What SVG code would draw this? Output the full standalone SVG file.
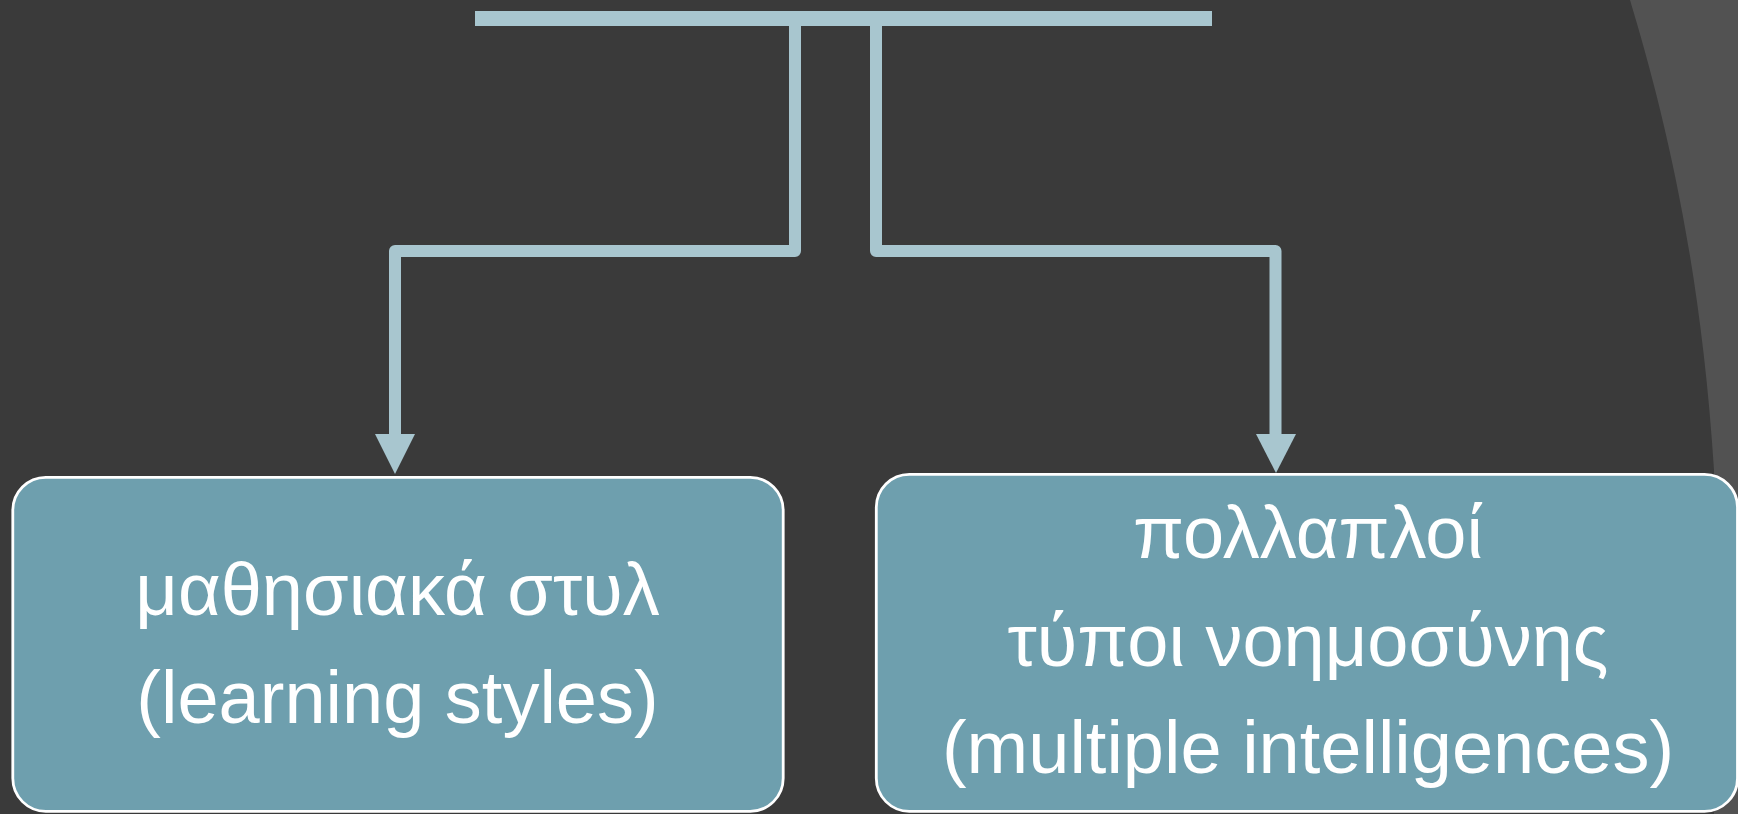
<svg xmlns="http://www.w3.org/2000/svg" width="1738" height="814" viewBox="0 0 1738 814">
  <defs>
    <style>
      .conn { fill: none; stroke: #a8c6cf; stroke-width: 12; stroke-linejoin: round; }
      .head { fill: #a8c6cf; }
      .box { fill: #6e9fae; stroke: #ffffff; stroke-width: 2.8; }
      .lbl { font-family: "Liberation Sans", Arial, sans-serif; font-size: 74px; fill: #ffffff; text-anchor: middle; }
    </style>
  </defs>
  <rect x="0" y="0" width="1738" height="814" fill="#3a3a3a"/>
  <path d="M1630,0 C1660,100 1700,250 1714,470 L1714,814 L1738,814 L1738,0 Z" fill="#525252"/>

  <g id="connectors">
    <rect x="475" y="11" width="737" height="15" fill="#a8c6cf"/>
    <path class="conn" d="M795,24 L795,251 L395,251 L395,436"/>
    <path class="conn" d="M876,24 L876,251 L1275.5,251 L1275.5,436"/>
    <polygon class="head" points="375,434 415,434 395,474"/>
    <polygon class="head" points="1256,434 1296,434 1276,473"/>
  </g>

  <g id="node-learning-styles">
    <rect class="box" x="12.8" y="477.3" width="770.4" height="334" rx="33" ry="33"/>
    <text class="lbl" x="397.5" y="615">μαθησιακά στυλ</text>
    <text class="lbl" x="397.5" y="723">(learning styles)</text>
  </g>

  <g id="node-multiple-intelligences">
    <rect class="box" x="876.3" y="474.3" width="861.2" height="337" rx="33" ry="33"/>
    <text class="lbl" x="1308" y="558">πολλαπλοί</text>
    <text class="lbl" x="1308" y="666">τύποι νοημοσύνης</text>
    <text class="lbl" x="1308" y="773">(multiple intelligences)</text>
  </g>
</svg>
